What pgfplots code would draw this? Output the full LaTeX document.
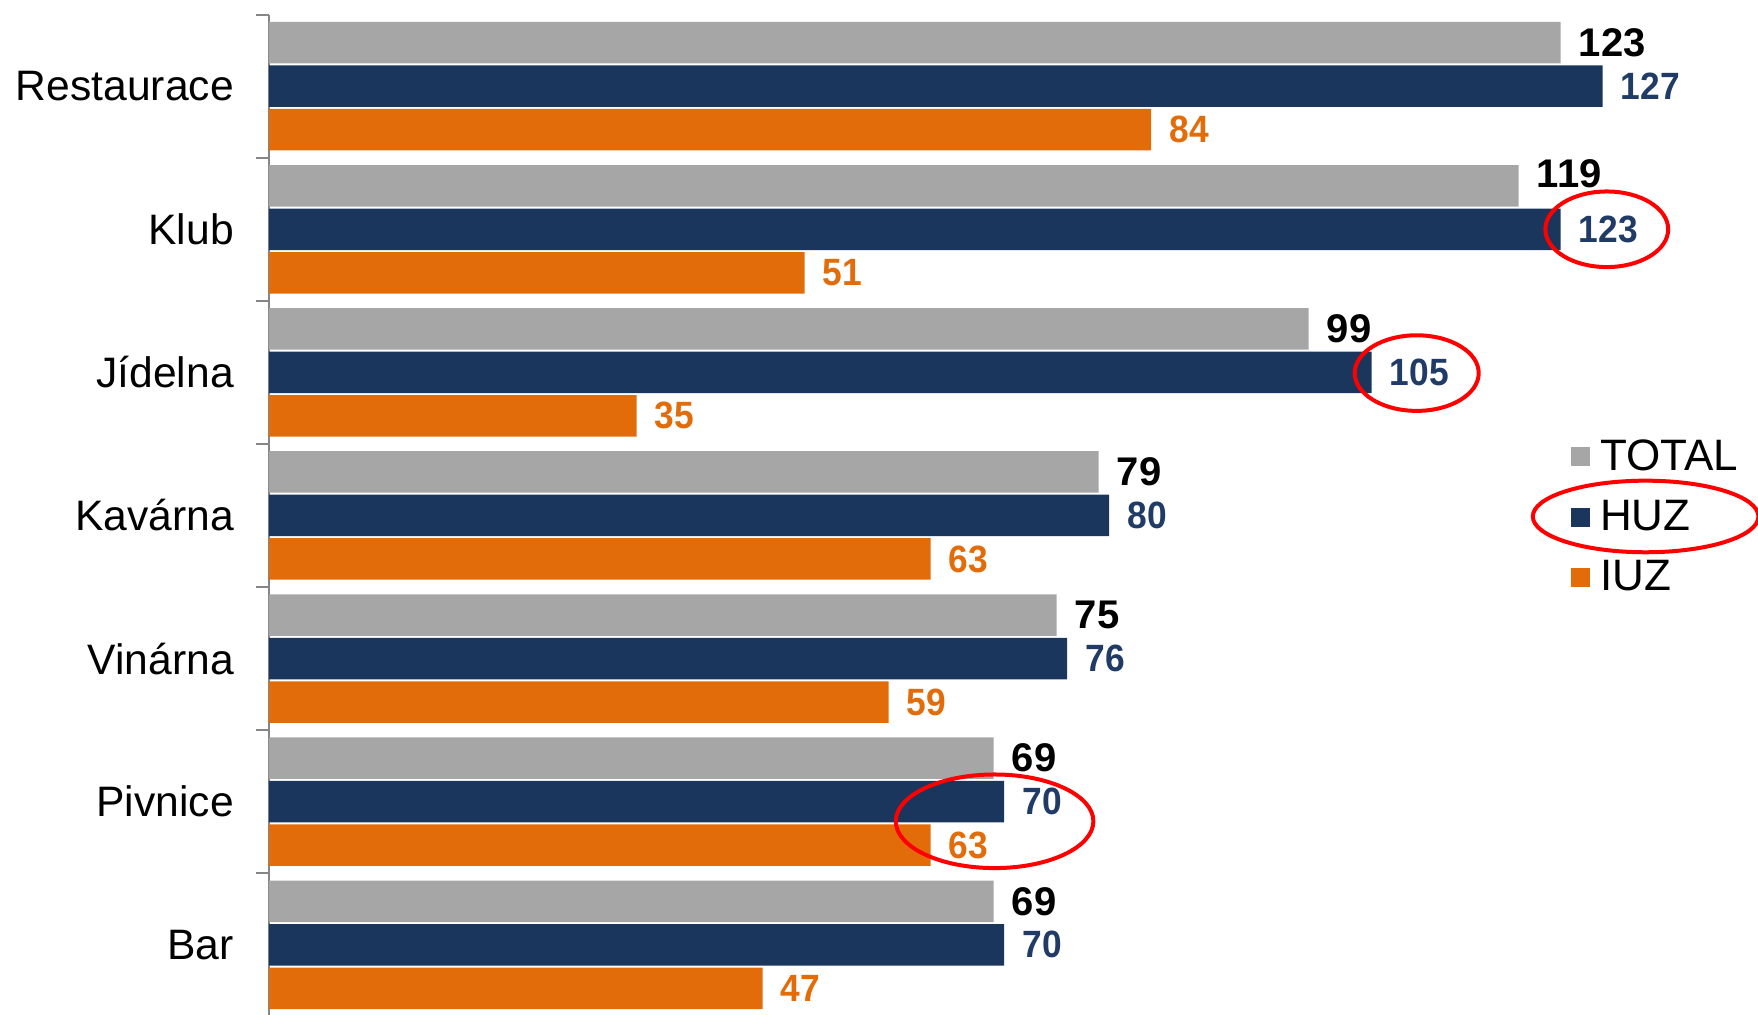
\documentclass[border=0pt]{standalone}
\usepackage{pgfplots}
\pgfplotsset{compat=1.18}
\usepackage{pgfplotstable}
\usepackage{fontspec}
\setmainfont{Liberation Sans}
\newfontfamily\labfont[FakeStretch=0.93]{Liberation Sans}
\definecolor{cgray}{HTML}{A6A6A6}
\definecolor{cnavy}{HTML}{1B365D}
\definecolor{corange}{HTML}{E36C0A}
\definecolor{cnavytxt}{HTML}{1F3B66}
\definecolor{axgray}{HTML}{868686}

\pgfplotstableread{
y val dy
0 123 0
1 119 6
2 99 0
3 79 0
4 75 0
5 69 0
6 69 0
}\tabtotal
\pgfplotstableread{
y val dy
0 127 0
1 123 0
2 105 0
3 80 0
4 76 0
5 70 0
6 70 0
}\tabhuz
\pgfplotstableread{
y val dy
0 84 0
1 51 0
2 35 0
3 63 0
4 59 0
5 63 0
6 47 0
}\tabiuz

\begin{document}
\begin{tikzpicture}
\begin{axis}[
  at={(0,0)}, anchor=north west,
  scale only axis, width=744.5pt, height=500.85pt,
  xbar, xmin=0, xmax=141.8,
  ymin=-0.5, ymax=6.5, y dir=reverse,
  hide x axis,
  axis y line*=left,
  y axis line style={draw=axgray, line width=1pt, -},
  ytick={0,...,6},
  yticklabels={Restaurace,Klub,Jídelna,Kavárna,Vinárna,Pivnice,Bar},
  major tick length=0pt,
  minor ytick={-0.5,0.5,...,6.5},
  minor tick length=6.6pt,
  tick align=outside,
  ytick pos=left,
  minor tick style={draw=axgray, line width=1pt},
  yticklabel style={font=\fontsize{21.3}{25}\selectfont, anchor=east, inner sep=0pt, xshift=-17.4pt},
  /pgf/number format/assume math mode=true,
  bar width=0.29,
  clip=false,
  point meta=x,
  legend cell align=left,
  legend image code/.code={\fill[#1] (0pt,-5.6pt) rectangle (9.5pt,3.9pt);},
  legend style={draw=none, fill=none, inner sep=0pt, at={(axis cs:123.94,2.999)}, anchor=west,
    font=\fontsize{22}{26}\selectfont, row sep=15.1pt,
    nodes={inner sep=0pt, text height=15pt, text depth=0pt},
    /tikz/every odd column/.append style={column sep=5.1pt}},
  visualization depends on={\thisrow{dy}\as\labdy},
  nodes near coords style={anchor=west, inner sep=0pt, xshift=9pt, yshift=\labdy pt},
]
\addplot[fill=cgray, draw=none, bar shift=-0.304, nodes near coords,
  nodes near coords style={font=\fontsize{20}{24}\selectfont\bfseries, text=black}]
  table[x=val, y=y] {\tabtotal};
\addplot[fill=cnavy, draw=none, bar shift=0, nodes near coords,
  nodes near coords style={font=\labfont\fontsize{19}{23}\selectfont\bfseries, text=cnavytxt}]
  table[x=val, y=y] {\tabhuz};
\addplot[fill=corange, draw=none, bar shift=0.304, nodes near coords,
  nodes near coords style={font=\labfont\fontsize{19}{23}\selectfont\bfseries, text=corange}]
  table[x=val, y=y] {\tabiuz};
\legend{TOTAL,HUZ,IUZ}
\draw[red, line width=2pt] (axis cs:127.4,1.0) ellipse [x radius=30.7pt, y radius=18.9pt];
\draw[red, line width=2pt] (axis cs:109.3,2.005) ellipse [x radius=31pt, y radius=18.9pt];
\draw[red, line width=2pt] (axis cs:131.1,3.007) ellipse [x radius=56.4pt, y radius=17.9pt];
\draw[red, line width=2pt] (axis cs:69.1,5.137) ellipse [x radius=49.4pt, y radius=23.4pt];
\end{axis}
\pgfresetboundingbox
\useasboundingbox (-134.5pt,7.3pt) rectangle (744.5pt,-499.7pt);
\end{tikzpicture}
\end{document}
